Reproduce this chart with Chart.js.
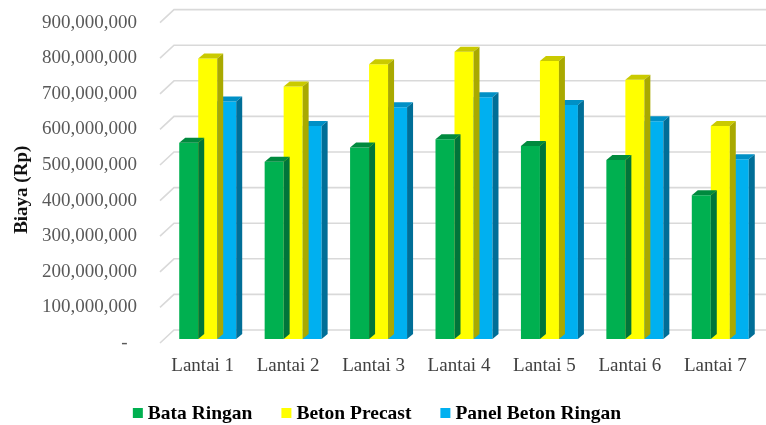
<!DOCTYPE html>
<html>
<head>
<meta charset="utf-8">
<script src="https://cdn.jsdelivr.net/npm/chart.js@4.4.1/dist/chart.umd.min.js"></script>
<style>
  html, body { margin: 0; padding: 0; background: #ffffff; }
  #wrap { width: 766px; height: 425px; }
</style>
</head>
<body>
<div id="wrap"><canvas id="chart" width="766" height="425"></canvas></div>
<script>
// Construction cost per floor for three wall systems (Rupiah)
const floors = ['Lantai 1', 'Lantai 2', 'Lantai 3', 'Lantai 4', 'Lantai 5', 'Lantai 6', 'Lantai 7'];
const bataRingan = [551e6, 498e6, 538e6, 561e6, 542e6, 503e6, 404e6];
const betonPrecast = [788e6, 709e6, 772e6, 807e6, 781e6, 728e6, 598e6];
const panelBetonRingan = [667e6, 598e6, 651e6, 679e6, 657e6, 612e6, 505e6];
const seriesNames = ['Bata Ringan', 'Beton Precast', 'Panel Beton Ringan'];
const yTicks = [0, 100e6, 200e6, 300e6, 400e6, 500e6, 600e6, 700e6, 800e6, 900e6];

const FONT = "'Liberation Serif', 'Times New Roman', serif";
const frontColors = ['#00B050', '#FFFF00', '#00B0F0'];
const topColors   = ['#008A3E', '#CACA00', '#0090C6'];
const sideColors  = ['#00753A', '#A9A900', '#006E97'];

// extrusion of each column and of the back wall
const BAR_DX = 6, BAR_DY = 5;
const WALL = { frontDx: -5, frontDy: 4, backDx: 9, backDy: -9 };

const wallGrid = {
  id: 'wallGrid',
  beforeDatasetsDraw(chart) {
    const { ctx, chartArea, scales: { y } } = chart;
    ctx.save();
    ctx.strokeStyle = '#D9D9D9';
    ctx.lineWidth = 1.6;
    yTicks.forEach(v => {
      const py = y.getPixelForValue(v);
      ctx.beginPath();
      ctx.moveTo(chartArea.left + WALL.frontDx, py + WALL.frontDy);
      ctx.lineTo(chartArea.left + WALL.backDx, py + WALL.backDy);
      ctx.lineTo(chart.width, py + WALL.backDy);
      ctx.stroke();
    });
    ctx.restore();
  }
};

const columns3d = {
  id: 'columns3d',
  afterDatasetDraw(chart, args) {
    const { ctx } = chart;
    const idx = args.index;
    ctx.save();
    args.meta.data.forEach(bar => {
      const { x, y, base, width } = bar.getProps(['x', 'y', 'base', 'width'], true);
      const l = x - width / 2, r = x + width / 2;
      ctx.fillStyle = topColors[idx];
      ctx.beginPath();
      ctx.moveTo(l, y);
      ctx.lineTo(l + BAR_DX, y - BAR_DY);
      ctx.lineTo(r + BAR_DX, y - BAR_DY);
      ctx.lineTo(r, y);
      ctx.closePath();
      ctx.fill();
      ctx.fillStyle = sideColors[idx];
      ctx.beginPath();
      ctx.moveTo(r, y);
      ctx.lineTo(r + BAR_DX, y - BAR_DY);
      ctx.lineTo(r + BAR_DX, base - BAR_DY);
      ctx.lineTo(r, base);
      ctx.closePath();
      ctx.fill();
    });
    ctx.restore();
  }
};

// rotated value-axis title
const axisTitle = {
  id: 'axisTitle',
  afterDraw(chart) {
    const { ctx, chartArea } = chart;
    ctx.save();
    ctx.translate(22, (chartArea.top + chartArea.bottom) / 2 + 11);
    ctx.rotate(-Math.PI / 2);
    ctx.font = 'bold 19px ' + FONT;
    ctx.fillStyle = '#111111';
    ctx.textAlign = 'center';
    ctx.textBaseline = 'middle';
    ctx.fillText('Biaya (Rp)', 0, 0);
    ctx.restore();
  }
};

// series key along the bottom edge
const seriesKey = {
  id: 'seriesKey',
  afterDraw(chart) {
    const { ctx } = chart;
    const box = 10, textGap = 5, itemGap = 29, cy = 413;
    ctx.save();
    ctx.font = 'bold 19.5px ' + FONT;
    ctx.textBaseline = 'middle';
    ctx.textAlign = 'left';
    const items = chart.data.datasets.map(ds => ({
      label: ds.label, color: ds.backgroundColor, w: ctx.measureText(ds.label).width
    }));
    const total = items.reduce((s, it) => s + box + textGap + it.w, 0) + itemGap * (items.length - 1);
    let x = chart.width / 2 - 6 - total / 2;
    items.forEach(it => {
      ctx.fillStyle = it.color;
      ctx.fillRect(x, cy - box / 2, box, box);
      ctx.fillStyle = '#000000';
      ctx.fillText(it.label, x + box + textGap, cy + 1);
      x += box + textGap + it.w + itemGap;
    });
    ctx.restore();
  }
};

const seriesData = [bataRingan, betonPrecast, panelBetonRingan];

new Chart(document.getElementById('chart'), {
  type: 'bar',
  data: {
    labels: floors,
    datasets: seriesData.map((d, i) => ({
      label: seriesNames[i],
      data: d,
      backgroundColor: frontColors[i],
      borderWidth: 0,
      categoryPercentage: 0.667,
      barPercentage: 1.0
    }))
  },
  options: {
    responsive: false,
    devicePixelRatio: 1,
    animation: false,
    layout: { padding: { top: 18.6, right: 3, left: 0, bottom: 50 } },
    plugins: {
      tooltip: { enabled: false },
      legend: { display: false }
    },
    scales: {
      x: {
        grid: { display: false, drawTicks: false },
        border: { display: false },
        ticks: {
          color: '#404040',
          font: { family: FONT, size: 19 },
          padding: 16,
          labelOffset: -5,
          maxRotation: 0
        },
        afterFit(s) { s.height = 36; s.paddingLeft = 0; s.paddingRight = 0; }
      },
      y: {
        min: 0,
        max: 900e6,
        grid: { display: false, drawTicks: false },
        border: { display: false },
        afterBuildTicks(s) { s.ticks = yTicks.map(v => ({ value: v })); },
        ticks: {
          color: '#595959',
          font: { family: FONT, size: 19 },
          padding: 28,
          labelOffset: 4,
          callback: v => v === 0 ? '-  ' : Number(v).toLocaleString('en-US')
        },
        afterFit(s) { s.width = 165; s.paddingTop = 0; s.paddingBottom = 0; }
      }
    }
  },
  plugins: [wallGrid, columns3d, axisTitle, seriesKey]
});
</script>
</body>
</html>
